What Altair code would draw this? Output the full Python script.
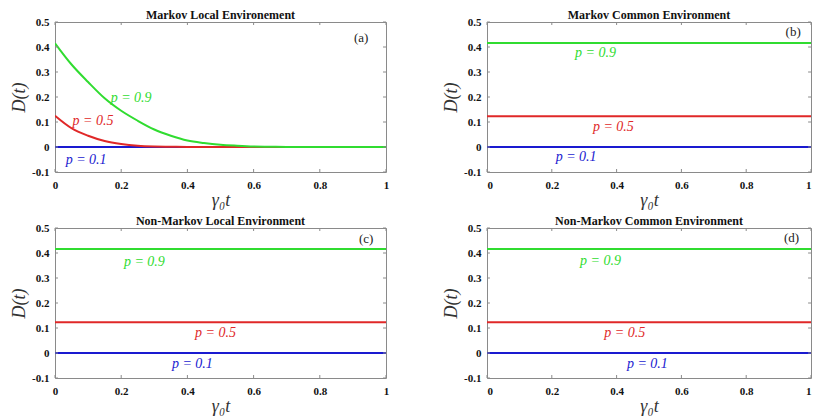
import altair as alt
import pandas as pd

# ---- data ----
t_decay = [0, 0.05, 0.1, 0.15, 0.2, 0.25, 0.3, 0.35, 0.4, 0.45, 0.5, 0.55, 0.6, 0.65, 0.7, 0.8, 0.9, 1.0]
green_decay = [0.415, 0.33, 0.26, 0.195, 0.145, 0.105, 0.07, 0.045, 0.026, 0.016, 0.009, 0.005, 0.002, 0.001, 0, 0, 0, 0]
red_decay = [0.125, 0.075, 0.045, 0.024, 0.012, 0.005, 0.002, 0.001, 0, 0, 0, 0, 0, 0, 0, 0, 0, 0]
blue_decay = [0, 0, 0, 0, 0, 0, 0, 0, 0, 0, 0, 0, 0, 0, 0, 0, 0, 0]

t_flat = [0, 1]
green_flat = [0.416, 0.416]
red_flat = [0.123, 0.123]
blue_flat = [0.0, 0.0]

series_names = ["p = 0.1", "p = 0.5", "p = 0.9"]
series_colors = ["#1a1ad0", "#e02828", "#30dc30"]

x_ticks = [0, 0.2, 0.4, 0.6, 0.8, 1]
y_ticks = [-0.1, 0, 0.1, 0.2, 0.3, 0.4, 0.5]

panel_titles = ["Markov Local Environement", "Markov Common Environment",
                "Non-Markov Local Environment", "Non-Markov Common Environment"]
panel_tags = ["(a)", "(b)", "(c)", "(d)"]
tag_pos = [(0.925, 0.435), (0.945, 0.46), (0.94, 0.455), (0.94, 0.46)]
# label positions (t, D) for p=0.1, p=0.5, p=0.9
label_pos = [
    [(0.094, -0.052), (0.115, 0.103), (0.23, 0.195)],
    [(0.275, -0.04), (0.39, 0.08), (0.335, 0.375)],
    [(0.415, -0.045), (0.485, 0.08), (0.27, 0.365)],
    [(0.495, -0.045), (0.425, 0.08), (0.35, 0.37)],
]

SERIF = "Liberation Serif"
FRAME = "#8a8a8a"
W, H = 331, 150
W_RIGHT = 324


def make_axes(flush):
    common = dict(ticks=False, domain=False, grid=False,
                  labelFont=SERIF, labelFontWeight="bold", labelFontSize=11, labelColor="#111111",
                  titleFont=SERIF, titleFontStyle="italic", titleFontWeight="normal", titleFontSize=18,
                  titleColor="#333333", labelExpr="'' + round(datum.value*10)/10")
    xa = alt.Axis(values=x_ticks, title="γ₀t", labelPadding=7, titlePadding=1,
                  minExtent=18, maxExtent=18, labelFlush=flush, **common)
    ya = alt.Axis(values=y_ticks, title="D(t)", labelPadding=6, titlePadding=5,
                  minExtent=22, maxExtent=22, **common)
    return xa, ya


def panel(i, t, g, r, b, flush=False, width=W):
    XAXIS, YAXIS = make_axes(flush)
    xs = alt.Scale(domain=[0, 1], nice=False, zero=False)
    ys = alt.Scale(domain=[-0.1, 0.5], nice=False, zero=False)
    layers = []
    for name, vals in zip(series_names, [b, r, g]):
        df = pd.DataFrame({"t": t, "D": vals, "p": name})
        layers.append(
            alt.Chart(df).mark_line(strokeWidth=2, interpolate="monotone", clip=True).encode(
                x=alt.X("t:Q", scale=xs, axis=XAXIS),
                y=alt.Y("D:Q", scale=ys, axis=YAXIS),
                color=alt.Color("p:N", scale=alt.Scale(domain=series_names, range=series_colors), legend=None),
            )
        )
    # inward ticks (box style)
    tick_rows = []
    for v in x_ticks:
        tick_rows.append(dict(x=v, x2=v, y=-0.1, y2=-0.088))
        tick_rows.append(dict(x=v, x2=v, y=0.5, y2=0.488))
    for v in y_ticks:
        tick_rows.append(dict(x=0, x2=0.009, y=v, y2=v))
        tick_rows.append(dict(x=1, x2=0.991, y=v, y2=v))
    ticks = alt.Chart(pd.DataFrame(tick_rows)).mark_rule(color=FRAME, strokeWidth=1).encode(
        x=alt.X("x:Q", scale=xs, axis=XAXIS), x2="x2:Q",
        y=alt.Y("y:Q", scale=ys, axis=YAXIS), y2="y2:Q",
    )
    lab = pd.DataFrame({
        "x": [p[0] for p in label_pos[i]],
        "y": [p[1] for p in label_pos[i]],
        "text": series_names,
    })
    labels = alt.Chart(lab).mark_text(font=SERIF, fontStyle="italic", fontSize=14).encode(
        x=alt.X("x:Q", scale=xs, axis=XAXIS),
        y=alt.Y("y:Q", scale=ys, axis=YAXIS),
        text="text:N",
        color=alt.Color("text:N", scale=alt.Scale(domain=series_names, range=series_colors), legend=None),
    )
    tag = alt.Chart(pd.DataFrame({"x": [tag_pos[i][0]], "y": [tag_pos[i][1]], "text": [panel_tags[i]]})).mark_text(
        font=SERIF, fontSize=13, color="#222222").encode(
        x=alt.X("x:Q", scale=xs, axis=XAXIS),
        y=alt.Y("y:Q", scale=ys, axis=YAXIS),
        text="text:N",
    )
    return alt.layer(*layers, ticks, labels, tag).properties(
        width=width, height=H,
        title=alt.TitleParams(panel_titles[i], font=SERIF, fontWeight="bold", fontSize=12, offset=-6,
                              frame="group", color="#111111"),
    )


pa = panel(0, t_decay, green_decay, red_decay, blue_decay)
pb = panel(1, t_flat, green_flat, red_flat, blue_flat, flush=True, width=W_RIGHT)
pc = panel(2, t_flat, green_flat, red_flat, blue_flat)
pd_ = panel(3, t_flat, green_flat, red_flat, blue_flat, flush=True, width=W_RIGHT)

chart = alt.vconcat(
    alt.hconcat(pa, pb, spacing=51),
    alt.hconcat(pc, pd_, spacing=51),
    spacing=4,
).properties(
    padding={"left": 1, "top": 0, "right": 0, "bottom": 0}
).configure_view(
    stroke=FRAME, strokeWidth=1
)

chart.save("out.html", embed_options={"renderer": "svg", "actions": False})
